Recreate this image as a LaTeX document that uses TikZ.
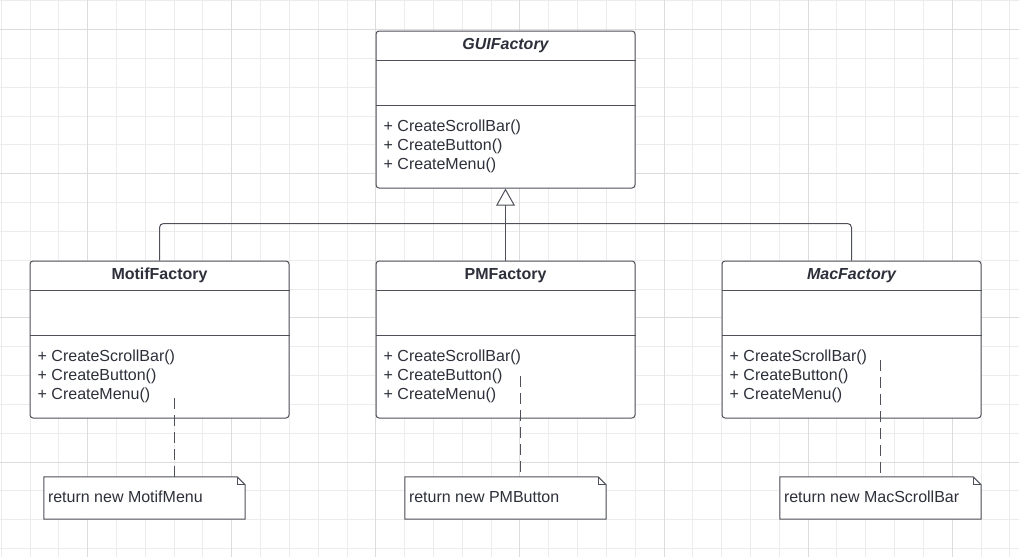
\documentclass[tikz,border=0pt]{standalone}
\usepackage{fontspec}
\setmainfont{Liberation Sans}
\usetikzlibrary{positioning,arrows.meta}

\definecolor{umlline}{RGB}{78,80,90}
\definecolor{umltext}{RGB}{45,48,58}
\definecolor{gridminor}{RGB}{236,236,236}
\definecolor{gridmajor}{RGB}{220,220,220}

\begin{document}
\begin{tikzpicture}[x=1pt, y=-1pt,
        classbox/.style={draw=umlline, fill=white, line width=1pt, rounded corners=3pt,
            minimum width=259pt, minimum height=157pt, inner sep=0pt},
        classtitle/.style={font=\fontsize{16}{19}\selectfont\bfseries, text=umltext,
            inner sep=0pt, anchor=base},
        methodline/.style={font=\fontsize{16}{19}\selectfont, text=umltext,
            inner sep=0pt, anchor=base west},
        compartment/.style={draw=umlline, line width=1pt},
        notebox/.style={fill=white, minimum width=201pt, minimum height=42pt, inner sep=0pt},
        noteline/.style={draw=umlline, line width=1pt},
        dashlink/.style={draw=umlline, line width=1pt, dash pattern=on 11pt off 6pt},
        inherit/.style={draw=umlline, line width=1pt,
            -{Triangle[width=18.6pt, length=17pt, fill=white]}}
    ]

    % grid
    \fill[white] (0,0) rectangle (1019,557);
    \useasboundingbox (0,0) rectangle (1019,557);
    \foreach \i in {0,...,35}
        \draw[gridminor, line width=1pt] (1.2+28.82*\i,0) -- (1.2+28.82*\i,557);
    \foreach \j in {0,...,19}
        \draw[gridminor, line width=1pt] (0,0.8+28.83*\j) -- (1019,0.8+28.83*\j);
    \foreach \i in {3,8,...,33}
        \draw[gridmajor, line width=1pt] (1.2+28.82*\i,0) -- (1.2+28.82*\i,557);
    \foreach \j in {1,6,11,16}
        \draw[gridmajor, line width=1pt] (0,0.8+28.83*\j) -- (1019,0.8+28.83*\j);

    % classes
    \node[classbox] (gui) at (505.5,109.5) {};
    \node[classbox, below=72pt of gui] (pm) {};
    \node[classbox, left=86pt of pm] (motif) {};
    \node[classbox, right=86pt of pm] (mac) {};

    \foreach \c/\t in {gui/\itshape GUIFactory, motif/MotifFactory,
                       pm/PMFactory, mac/\itshape MacFactory} {
        \draw[compartment] ([yshift=-30pt]\c.north west) -- ([yshift=-30pt]\c.north east);
        \draw[compartment] ([yshift=-74.5pt]\c.north west) -- ([yshift=-74.5pt]\c.north east);
        \node[classtitle] (\c-title) at ([yshift=-19pt]\c.north) {\t};
        \foreach \op [count=\k] in {ScrollBar,Button,Menu}
            \node[methodline] (\c-op\k) at ([xshift=8pt, yshift={-82pt-19pt*\k}]\c.north west) {+ Create\op()};
    }

    % generalization
    \coordinate (bus) at ([yshift=37pt]pm.north);
    \draw[compartment, rounded corners=4pt] (motif.north) |- (bus) -| (mac.north);
    \draw[inherit] (pm.north) -- (gui.south);

    % notes
    \foreach \n/\x/\txt in {motifnote/144.5/return new MotifMenu,
                            pmnote/505.5/return new PMButton,
                            macnote/880.5/return new MacScrollBar} {
        \node[notebox] (\n) at (\x,498) {};
        \draw[noteline] (\n.north west) -- ([xshift=-8pt]\n.north east)
            -- ([yshift=-8pt]\n.north east) -- (\n.south east) -- (\n.south west) -- cycle;
        \draw[noteline] ([xshift=-8pt]\n.north east) |- ([yshift=-8pt]\n.north east);
        \node[methodline] (\n-text) at ([xshift=4pt, yshift=-25.5pt]\n.north west) {\txt};
    }

    \coordinate (motifref) at (174,398);
    \coordinate (pmref) at (520,376);
    \coordinate (macref) at (880,360);
    \draw[dashlink] (motifref) -- (motifref |- motifnote.north);
    \draw[dashlink] (pmref) -- (pmref |- pmnote.north);
    \draw[dashlink] (macref) -- (macref |- macnote.north);
\end{tikzpicture}
\end{document}
